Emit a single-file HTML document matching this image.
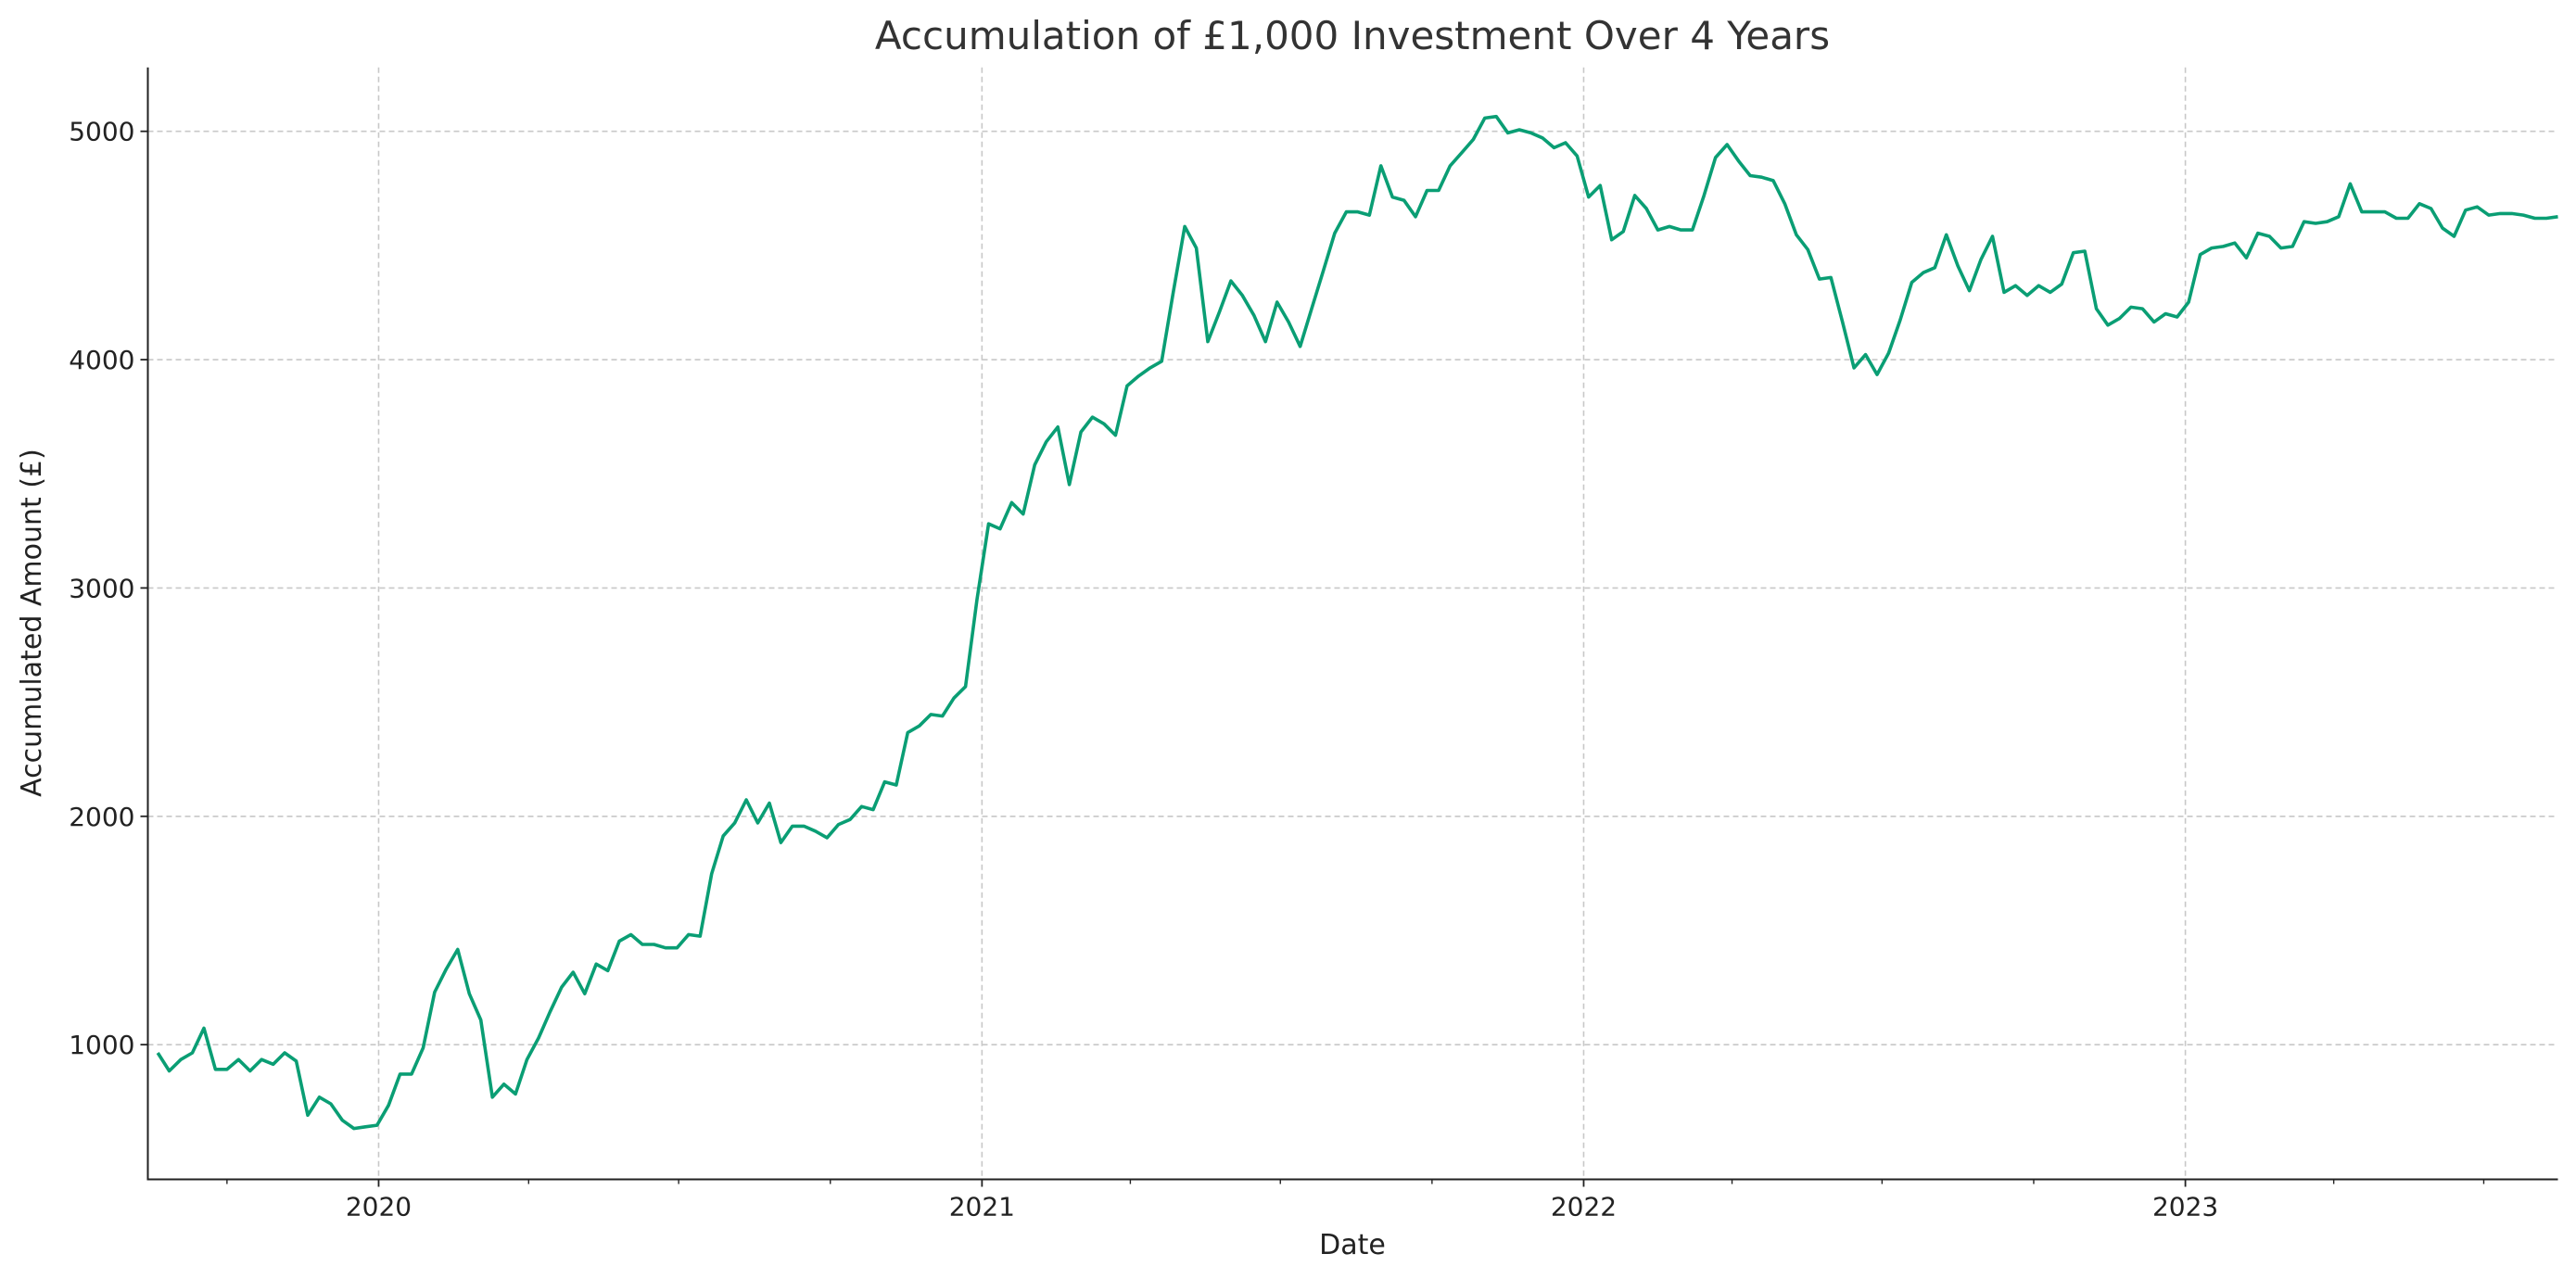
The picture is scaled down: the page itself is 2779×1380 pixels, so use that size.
<!DOCTYPE html>
<html><head><meta charset="utf-8"><style>
html,body{margin:0;padding:0;background:#fff;}
svg{display:block;font-family:"DejaVu Sans","Liberation Sans",sans-serif;}
</style></head><body>
<svg id="chart" width="2779" height="1380" viewBox="0 0 2779 1380" xmlns="http://www.w3.org/2000/svg">
<rect width="2779" height="1380" fill="#fff"/>
<text x="1459" y="53" font-size="42" fill="#333" text-anchor="middle">Accumulation of £1,000 Investment Over 4 Years</text>
<g id="grid"></g>
<g id="axes"></g>
<path id="line" fill="none" stroke="#0a9e74" stroke-width="3.6" stroke-linejoin="round"/>
<text x="1459" y="1353" font-size="30" fill="#222" text-anchor="middle">Date</text>
<text x="0" y="0" font-size="30" fill="#222" text-anchor="middle" transform="translate(44,672) rotate(-90)">Accumulated Amount (£)</text>
</svg>
<script>
const startDay = -134; // days from 2020-01-01, weekly steps
const values = [964,885,935,964,1072,892,892,935,885,935,914,964,928,691,770,741,669,633,640,647,734,871,871,986,1230,1331,1417,1223,1108,770,827,784,935,1029,1144,1252,1317,1223,1353,1324,1453,1482,1439,1439,1424,1424,1482,1475,1748,1914,1971,2072,1971,2058,1885,1957,1957,1935,1906,1964,1986,2043,2029,2151,2137,2367,2396,2446,2439,2518,2568,2950,3281,3259,3374,3324,3540,3640,3705,3453,3683,3748,3719,3669,3885,3928,3964,3993,4295,4583,4489,4079,4209,4345,4281,4194,4079,4252,4165,4058,4223,4388,4554,4647,4647,4633,4849,4712,4698,4626,4741,4741,4849,4906,4964,5058,5065,4993,5007,4993,4971,4928,4950,4892,4712,4763,4525,4561,4719,4662,4568,4583,4568,4568,4719,4885,4942,4870,4806,4799,4784,4683,4547,4482,4353,4360,4165,3964,4022,3935,4029,4173,4338,4381,4403,4547,4410,4302,4439,4540,4295,4324,4281,4324,4295,4331,4468,4475,4223,4151,4180,4230,4223,4165,4201,4187,4252,4460,4489,4496,4511,4446,4554,4540,4489,4496,4604,4597,4604,4626,4770,4647,4647,4647,4619,4619,4683,4662,4576,4540,4655,4669,4633,4640,4640,4633,4619,4619,4626];
const yTicks = [1000,2000,3000,4000,5000];
const yearLabels = ["2020","2021","2022","2023"];
const yearDays = [0,366,731,1096];
const minorDays = [-92,91,182,274,456,547,639,821,912,1004,1186,1277];

const L=159.5,R=2759.5,T=72.7,B=1272.5;
const xMin=-140, xMax=startDay+7*(values.length-1);
const yMin=410, yMax=5280;
const xs=d=>L+(d-xMin)/(xMax-xMin)*(R-L);
const ys=v=>B-(v-yMin)/(yMax-yMin)*(B-T);
const NS="http://www.w3.org/2000/svg";
function mk(tag,attrs,parent,txt){const e=document.createElementNS(NS,tag);for(const k in attrs)e.setAttribute(k,attrs[k]);if(txt!==undefined)e.textContent=txt;parent.appendChild(e);return e;}
const grid=document.getElementById('grid'),axes=document.getElementById('axes');
yTicks.forEach(v=>{
  const g=mk('line',{x1:L,x2:R,y1:ys(v),y2:ys(v),stroke:'#c8c8c8','stroke-width':1.6,'stroke-dasharray':'6,4'},grid);
  
  
  const t=mk('line',{x1:L-8,x2:L,y1:ys(v),y2:ys(v),stroke:'#222','stroke-width':1.8},axes);
  
  
  const lb=mk('text',{x:L-14,y:ys(v)+10,'font-size':28,fill:'#222','text-anchor':'end'},axes,String(v));
  
  
});
yearDays.forEach((d,i)=>{
  const g=mk('line',{x1:xs(d),x2:xs(d),y1:T,y2:B,stroke:'#c8c8c8','stroke-width':1.6,'stroke-dasharray':'6,4'},grid);
  
  
  const t=mk('line',{x1:xs(d),x2:xs(d),y1:B,y2:B+8,stroke:'#222','stroke-width':1.8},axes);
  
  
  const lb=mk('text',{x:xs(d),y:B+39,'font-size':28,fill:'#222','text-anchor':'middle'},axes,yearLabels[i]);
  
  
});
minorDays.forEach(d=>{
  const t=mk('line',{x1:xs(d),x2:xs(d),y1:B,y2:B+5,stroke:'#222','stroke-width':1.4},axes);
  
  
});
const sl=mk('line',{x1:L,x2:L,y1:T,y2:B+1,stroke:'#222','stroke-width':2},axes);


const sb=mk('line',{x1:L-1,x2:R,y1:B,y2:B,stroke:'#222','stroke-width':2},axes);


document.getElementById('line').setAttribute('d',values.map((v,i)=>(i?'L':'M')+xs(startDay+7*i).toFixed(1)+','+ys(v).toFixed(1)).join(''));
</script>
</body></html>
